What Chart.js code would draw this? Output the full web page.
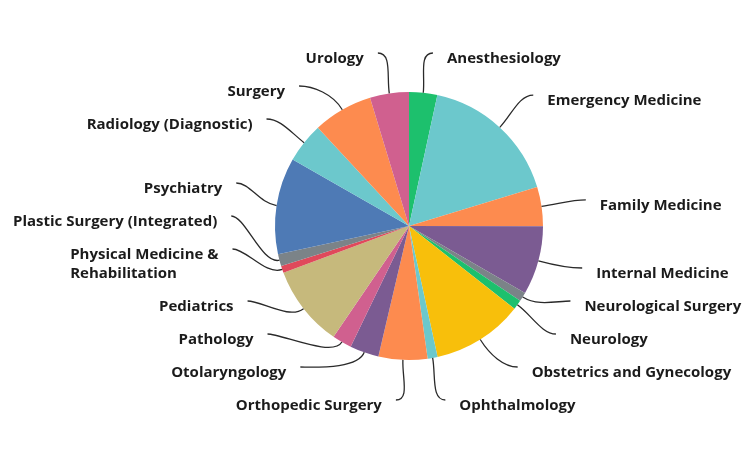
<!DOCTYPE html>
<html>
<head>
<meta charset="utf-8">
<script src="https://cdn.jsdelivr.net/npm/chart.js@4.4.0/dist/chart.umd.min.js"></script>
<style>
  body { margin: 0; background: #fff; }
  #pie { display: block; }
</style>
</head>
<body>
<canvas id="pie" width="750" height="463"></canvas>
<script>
// specialties, clockwise from 12 o'clock
var specialties = [
    'Anesthesiology', 'Emergency Medicine', 'Family Medicine', 'Internal Medicine',
    'Neurological Surgery', 'Neurology', 'Obstetrics and Gynecology', 'Ophthalmology',
    'Orthopedic Surgery', 'Otolaryngology', 'Pathology', 'Pediatrics',
    ['Physical Medicine &', 'Rehabilitation'], 'Plastic Surgery (Integrated)', 'Psychiatry',
    'Radiology (Diagnostic)', 'Surgery', 'Urology'
];
// share of total (%)
var shares = [3.4, 16.9, 4.75, 8.3, 1.1, 1.15, 11.0, 1.2, 5.9, 3.5, 2.35, 9.8, 0.85, 1.45, 11.65, 4.85, 7.2, 4.7];

var green = '#1dc06d', teal = '#6cc8cc', orange = '#fd8b4f', purple = '#7b5b92',
    gray = '#7b8388', yellow = '#f8bf0b', blue = '#4e7ab5', khaki = '#c6b97c',
    pink = '#d0608f', red = '#e0495b';
var sliceColors = [green, teal, orange, purple, gray, green, yellow, teal,
    orange, purple, pink, khaki, red, gray, blue, teal, orange, pink];

var labelFont = '700 15px "Open Sans"';

// draws the outside labels with curved leader lines
var leaderLabels = {
    id: 'leaderLabels',
    afterDraw: function(chart) {
        var ctx = chart.ctx;
        var arcs = chart.getDatasetMeta(0).data;
        var top = 53, bottom = 400, rowH = 33, lineH = 19;
        var left = [], right = [];

        arcs.forEach(function(arc, i) {
            var p = arc.getProps(['x', 'y', 'startAngle', 'endAngle', 'outerRadius'], true);
            var mid = (p.startAngle + p.endAngle) / 2;
            var r2 = p.outerRadius + 44;
            var lines = Array.isArray(specialties[i]) ? specialties[i] : [specialties[i]];
            var item = {
                cx: p.x, cy: p.y, r: p.outerRadius, r2: r2, mid: mid, lines: lines,
                nx: p.x + Math.cos(mid) * r2, ny: p.y + Math.sin(mid) * r2,
                h: rowH + lineH * (lines.length - 1)
            };
            (item.nx < p.x ? left : right).push(item);
        });

        function relax(items) {
            items.sort(function(a, b) { return a.ny - b.ny; });
            var clusters = items.map(function(it) { return { items: [it] }; });
            function place(c) {
                var off = 0, sum = 0;
                c.items.forEach(function(it) { it.off = off; sum += it.ny - off; off += it.h; });
                c.total = off;
                var last = c.items[c.items.length - 1].off;
                c.start = Math.min(Math.max(sum / c.items.length, top), bottom - last);
            }
            clusters.forEach(place);
            var merged = true;
            while (merged) {
                merged = false;
                for (var k = 0; k < clusters.length - 1; k++) {
                    var a = clusters[k], b = clusters[k + 1];
                    if (a.start + a.total > b.start + 0.01) {
                        a.items = a.items.concat(b.items);
                        clusters.splice(k + 1, 1);
                        place(a);
                        merged = true;
                        break;
                    }
                }
            }
            clusters.forEach(function(c) {
                c.items.forEach(function(it) { it.y = c.start + it.off; });
            });
        }
        relax(left);
        relax(right);

        ctx.save();
        ctx.font = labelFont;
        ctx.textBaseline = 'middle';
        left.concat(right).forEach(function(it) {
            var dir = it.nx < it.cx ? -1 : 1;
            var dy = it.y - it.cy;
            // near top/bottom the label sits a bit further out
            var ax = it.nx + dir * 5 * Math.abs(Math.sin(it.mid));
            if (Math.abs(it.y - it.ny) > 6 && Math.abs(dy) < it.r2) {
                ax = it.cx + dir * Math.sqrt(it.r2 * it.r2 - dy * dy);
            }
            var ay = it.y;
            var ex = it.cx + Math.cos(it.mid) * it.r, ey = it.cy + Math.sin(it.mid) * it.r;

            ctx.beginPath();
            ctx.moveTo(ex, ey);
            ctx.bezierCurveTo(ex + Math.cos(it.mid) * 18, ey + Math.sin(it.mid) * 18,
                ax - dir * 14, ay, ax, ay);
            ctx.strokeStyle = '#2a2a2a';
            ctx.lineWidth = 1.3;
            ctx.stroke();

            // multi-line labels are a left-aligned block on both sides
            ctx.fillStyle = '#1b1b1b';
            ctx.textAlign = 'left';
            var w = Math.max.apply(null, it.lines.map(function(l) { return ctx.measureText(l).width; }));
            var tx = dir > 0 ? ax + 14 : ax - 14 - w;
            it.lines.forEach(function(line, j) {
                ctx.fillText(line, tx, ay + 6 + j * lineH);
            });
        });
        ctx.restore();
    }
};

new Chart(document.getElementById('pie').getContext('2d'), {
    type: 'pie',
    data: {
        labels: specialties,
        datasets: [{
            data: shares,
            backgroundColor: sliceColors,
            borderWidth: 0
        }]
    },
    options: {
        responsive: false,
        animation: false,
        layout: { padding: { top: 92, bottom: 103, left: 275, right: 207 } },
        plugins: {
            legend: { display: false },
            tooltip: { enabled: false }
        }
    },
    plugins: [leaderLabels]
});
</script>
</body>
</html>
